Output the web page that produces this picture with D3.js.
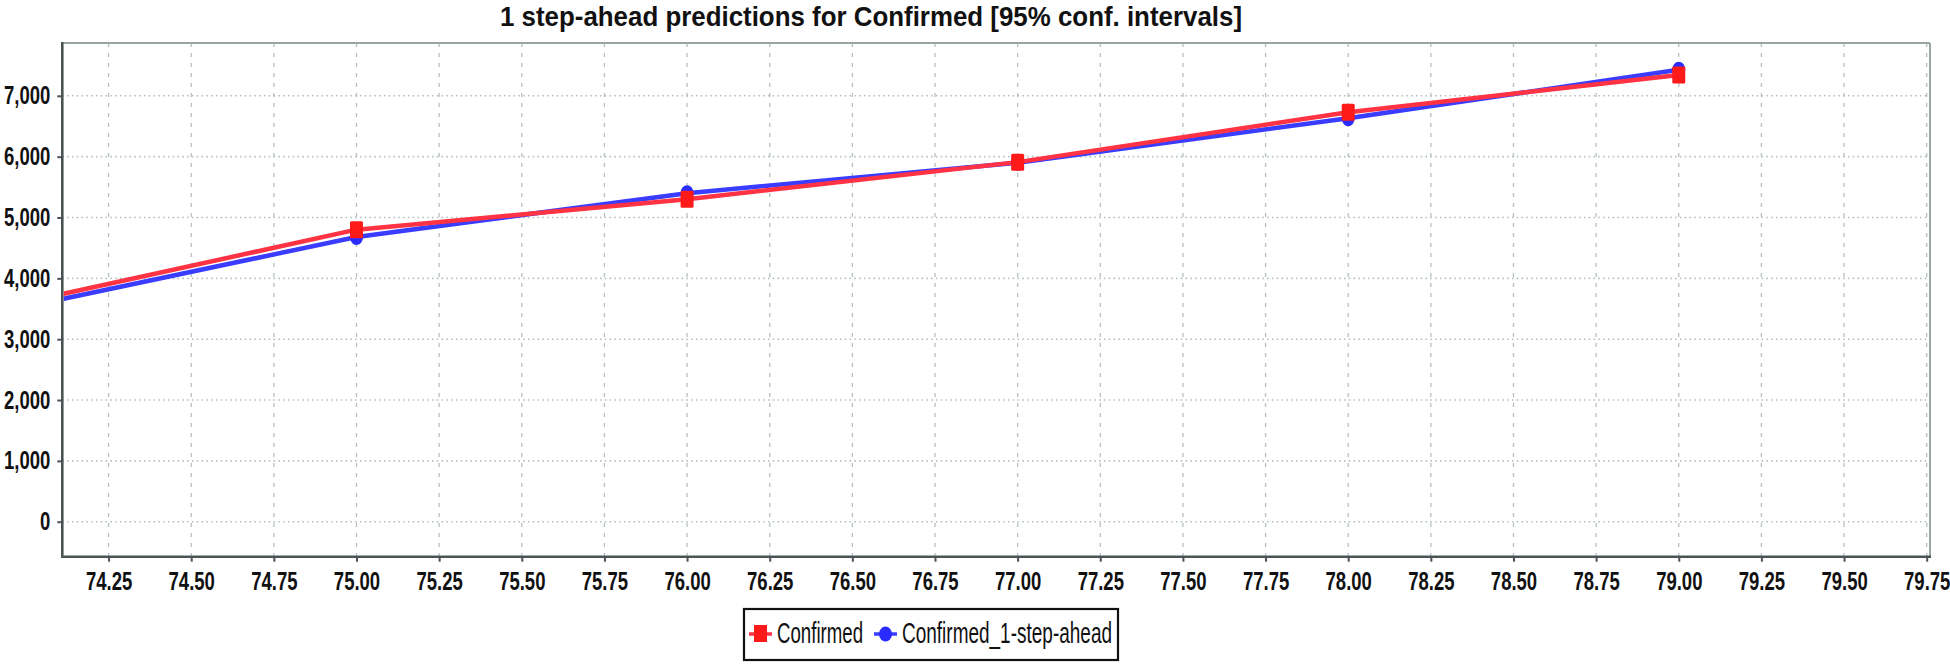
<!DOCTYPE html>
<html><head><meta charset="utf-8">
<script src="https://cdn.jsdelivr.net/npm/d3@7"></script>
<style>body{margin:0;background:#fff}svg{display:block}</style></head>
<body><svg id="c" width="1950" height="667"></svg>
<script>
const xValues = [74, 75, 76, 77, 78, 79];
const confirmed = [3612, 4800, 5301, 5910, 6729, 7342];
const oneStepAhead = [3534, 4680, 5400, 5900, 6630, 7430];
const xTicks = [74.25, 74.5, 74.75, 75, 75.25, 75.5, 75.75, 76, 76.25, 76.5, 76.75, 77, 77.25, 77.5, 77.75, 78, 78.25, 78.5, 78.75, 79, 79.25, 79.5, 79.75];
const yTicks = [0, 1000, 2000, 3000, 4000, 5000, 6000, 7000];
const seriesNames = ["Confirmed", "Confirmed_1-step-ahead"];
const titleText = "1 step-ahead predictions for Confirmed [95% conf. intervals]";

const FONT = "'Liberation Sans Narrow','Arial Narrow','Liberation Sans',Arial,sans-serif";
const svg = d3.select("#c");
const L = 62.3, R = 1930, T = 43, B = 556.7;
const x = d3.scaleLinear().domain([74.11, 79.76]).range([L, R]);
const y = d3.scaleLinear().domain([-575, 7868]).range([B, T]);

function condense(sel, f) {
  sel.each(function () {
    const w = this.getComputedTextLength();
    d3.select(this).attr("textLength", w * f).attr("lengthAdjust", "spacingAndGlyphs");
  });
}

// title
svg.append("text").attr("x", 500).attr("y", 26)
  .attr("font-family", FONT).attr("font-weight", "bold").attr("font-size", 28)
  .attr("textLength", 742).attr("lengthAdjust", "spacingAndGlyphs")
  .attr("fill", "#111").text(titleText);

// grid
const grid = svg.append("g");
grid.selectAll("line.v").data(xTicks).join("line")
  .attr("x1", d => x(d)).attr("x2", d => x(d)).attr("y1", T).attr("y2", B)
  .attr("stroke", "#b5c0c0").attr("stroke-width", 1.3).attr("stroke-dasharray", "4,6");
grid.selectAll("line.h").data(yTicks).join("line")
  .attr("x1", L).attr("x2", R).attr("y1", d => y(d)).attr("y2", d => y(d))
  .attr("stroke", "#b5c0c0").attr("stroke-width", 1.6).attr("stroke-dasharray", "1.6,3.2");

// border top/right
svg.append("line").attr("x1", L).attr("x2", R).attr("y1", T).attr("y2", T).attr("stroke", "#9aa4a4").attr("stroke-width", 2);
svg.append("line").attr("x1", R).attr("x2", R).attr("y1", T).attr("y2", B).attr("stroke", "#9aa4a4").attr("stroke-width", 2);

// axes
const yAxis = svg.append("g").attr("transform", `translate(${L},0)`)
  .call(d3.axisLeft(y).tickValues(yTicks).tickFormat(d3.format(",")).tickSize(5).tickPadding(7));
const xAxis = svg.append("g").attr("transform", `translate(0,${B})`)
  .call(d3.axisBottom(x).tickValues(xTicks).tickFormat(d3.format(".2f")).tickSize(5).tickPadding(11));
[yAxis, xAxis].forEach(g => {
  g.select(".domain").remove();
  g.selectAll(".tick line").attr("stroke", "#4a5454").attr("stroke-width", 2);
  g.selectAll(".tick text").attr("font-family", FONT).attr("font-weight", "bold")
    .attr("font-size", 25).attr("fill", "#111");
  condense(g.selectAll(".tick text"), 0.74);
});
svg.append("line").attr("x1", L).attr("x2", L).attr("y1", T - 1).attr("y2", B + 1).attr("stroke", "#4a5454").attr("stroke-width", 2.6);
svg.append("line").attr("x1", L - 1).attr("x2", R + 1).attr("y1", B).attr("y2", B).attr("stroke", "#4a5454").attr("stroke-width", 2.6);

// clip
svg.append("clipPath").attr("id", "clip").append("rect")
  .attr("x", L + 1.5).attr("y", T + 1).attr("width", R - L - 2.5).attr("height", B - T - 2.5);
const plot = svg.append("g").attr("clip-path", "url(#clip)");

const redData = xValues.map((v, i) => [v, confirmed[i]]);
const blueData = xValues.map((v, i) => [v, oneStepAhead[i]]);
const line = d3.line().x(d => x(d[0])).y(d => y(d[1]));

plot.append("path").datum(blueData).attr("d", line).attr("fill", "none")
  .attr("stroke", "#3a3cff").attr("stroke-width", 4.5).attr("stroke-linejoin", "round");
plot.append("path").datum(redData).attr("d", line).attr("fill", "none")
  .attr("stroke", "#ff3344").attr("stroke-width", 4.5).attr("stroke-linejoin", "round");
plot.selectAll("ellipse.b").data(blueData.slice(1)).join("ellipse")
  .attr("cx", d => x(d[0])).attr("cy", d => y(d[1])).attr("rx", 6.5).attr("ry", 8)
  .attr("fill", "#2a2cff");
plot.selectAll("rect.r").data(redData.slice(1)).join("rect")
  .attr("x", d => x(d[0]) - 6.5).attr("y", d => y(d[1]) - 8.5).attr("width", 13).attr("height", 17)
  .attr("rx", 1.5).attr("fill", "#ff1a1a");

// legend
const lg = svg.append("g");
lg.append("rect").attr("x", 744).attr("y", 609).attr("width", 374).attr("height", 51)
  .attr("fill", "#fff").attr("stroke", "#111").attr("stroke-width", 2.2);
lg.append("line").attr("x1", 749).attr("x2", 772).attr("y1", 634).attr("y2", 634).attr("stroke", "#ff3344").attr("stroke-width", 3.5);
lg.append("rect").attr("x", 754).attr("y", 625).attr("width", 13).attr("height", 17).attr("fill", "#ff1a1a");
lg.append("text").attr("x", 777).attr("y", 643).attr("font-family", FONT).attr("font-size", 29)
  .attr("textLength", 86).attr("lengthAdjust", "spacingAndGlyphs").attr("fill", "#111").text(seriesNames[0]);
lg.append("line").attr("x1", 874).attr("x2", 897).attr("y1", 634).attr("y2", 634).attr("stroke", "#3a3cff").attr("stroke-width", 3.5);
lg.append("ellipse").attr("cx", 885.5).attr("cy", 634).attr("rx", 6.5).attr("ry", 7.5).attr("fill", "#2a2cff");
lg.append("text").attr("x", 902).attr("y", 643).attr("font-family", FONT).attr("font-size", 29)
  .attr("textLength", 210).attr("lengthAdjust", "spacingAndGlyphs").attr("fill", "#111").text(seriesNames[1]);
</script></body></html>
